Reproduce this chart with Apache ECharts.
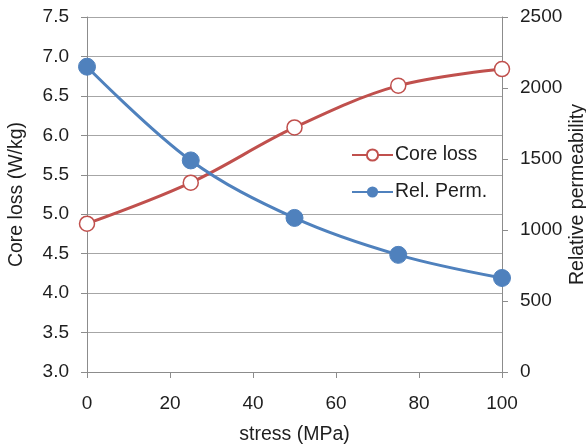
<!DOCTYPE html>
<html><head><meta charset="utf-8">
<script src="https://cdn.jsdelivr.net/npm/echarts@6/dist/echarts.min.js"></script>
<style>html,body{margin:0;padding:0;background:#fff}#c{width:586px;height:445px}</style>
</head><body><div id="c"></div>
<script>
const stress = [0, 25, 50, 75, 100];
const coreLoss = [4.88, 5.40, 6.10, 6.63, 6.84];
const relPerm = [2150, 1490, 1085, 825, 662];
const xTicks = [0, 20, 40, 60, 80, 100];
const leftTicks = [3.0, 3.5, 4.0, 4.5, 5.0, 5.5, 6.0, 6.5, 7.0, 7.5];
const rightTicks = [0, 500, 1000, 1500, 2000, 2500];

const font = 'Liberation Sans, Arial, sans-serif';
const axisCol = '#8c8c8c';
const txt = '#1e1e1e';
const chart = echarts.init(document.getElementById('c'));
chart.setOption({
  animation: false,
  textStyle: { fontFamily: font },
  grid: { left: 87, right: 84, top: 17, bottom: 73, containLabel: false, outerBoundsMode: 'none' },
  legend: {
    orient: 'vertical', left: 346, top: 140,
    itemWidth: 41, itemHeight: 14, itemGap: 17,
    textStyle: { fontSize: 19.5, color: txt, fontFamily: font, padding: [0, 0, 0, -3] },
    data: ['Core loss', 'Rel. Perm.']
  },
  xAxis: {
    type: 'value', min: xTicks[0], max: xTicks[xTicks.length - 1], interval: 20,
    name: 'stress (MPa)', nameLocation: 'middle', nameGap: 53, nameMoveOverlap: false,
    nameTextStyle: { fontSize: 19.5, color: txt },
    axisLine: { show: true, lineStyle: { color: axisCol } },
    axisTick: { show: true, length: 6, lineStyle: { color: axisCol } },
    axisLabel: { fontSize: 19, color: txt, margin: 22, formatter: v => String(v) },
    splitLine: { show: false }
  },
  yAxis: [{
    type: 'value', min: leftTicks[0], max: leftTicks[leftTicks.length - 1], interval: 0.5,
    name: 'Core loss (W/kg)', nameLocation: 'middle', nameGap: 60, nameRotate: 90, nameMoveOverlap: false,
    nameTextStyle: { fontSize: 19.5, color: txt },
    axisLine: { show: true, lineStyle: { color: axisCol } },
    axisTick: { show: true, length: 6, lineStyle: { color: axisCol } },
    axisLabel: { fontSize: 19, color: txt, margin: 18, formatter: v => v.toFixed(1) },
    splitLine: { show: true, lineStyle: { color: '#a6a6a6', width: 1 } }
  }, {
    type: 'value', min: rightTicks[0], max: rightTicks[rightTicks.length - 1], interval: 500,
    name: 'Relative permeability', nameLocation: 'middle', nameGap: 66, nameRotate: 90, nameMoveOverlap: false,
    nameTextStyle: { fontSize: 19.5, color: txt },
    position: 'right',
    axisLine: { show: true, lineStyle: { color: axisCol } },
    axisTick: { show: true, length: 6, lineStyle: { color: axisCol } },
    axisLabel: { fontSize: 19, color: txt, margin: 18, formatter: v => String(v) },
    splitLine: { show: false }
  }],
  series: [{
    name: 'Core loss', type: 'line', yAxisIndex: 0, smooth: 0.35,
    data: stress.map((s, i) => [s, coreLoss[i]]),
    symbol: 'circle', symbolSize: 15,
    lineStyle: { color: '#C0504D', width: 3 },
    itemStyle: { color: '#ffffff', borderColor: '#C0504D', borderWidth: 1.5 },
    z: 3
  }, {
    name: 'Rel. Perm.', type: 'line', yAxisIndex: 1, smooth: 0.35,
    data: stress.map((s, i) => [s, relPerm[i]]),
    symbol: 'circle', symbolSize: 17,
    lineStyle: { color: '#4F81BD', width: 3 },
    itemStyle: { color: '#4F81BD', borderColor: '#4F81BD' },
    z: 4
  }]
});
</script></body></html>
